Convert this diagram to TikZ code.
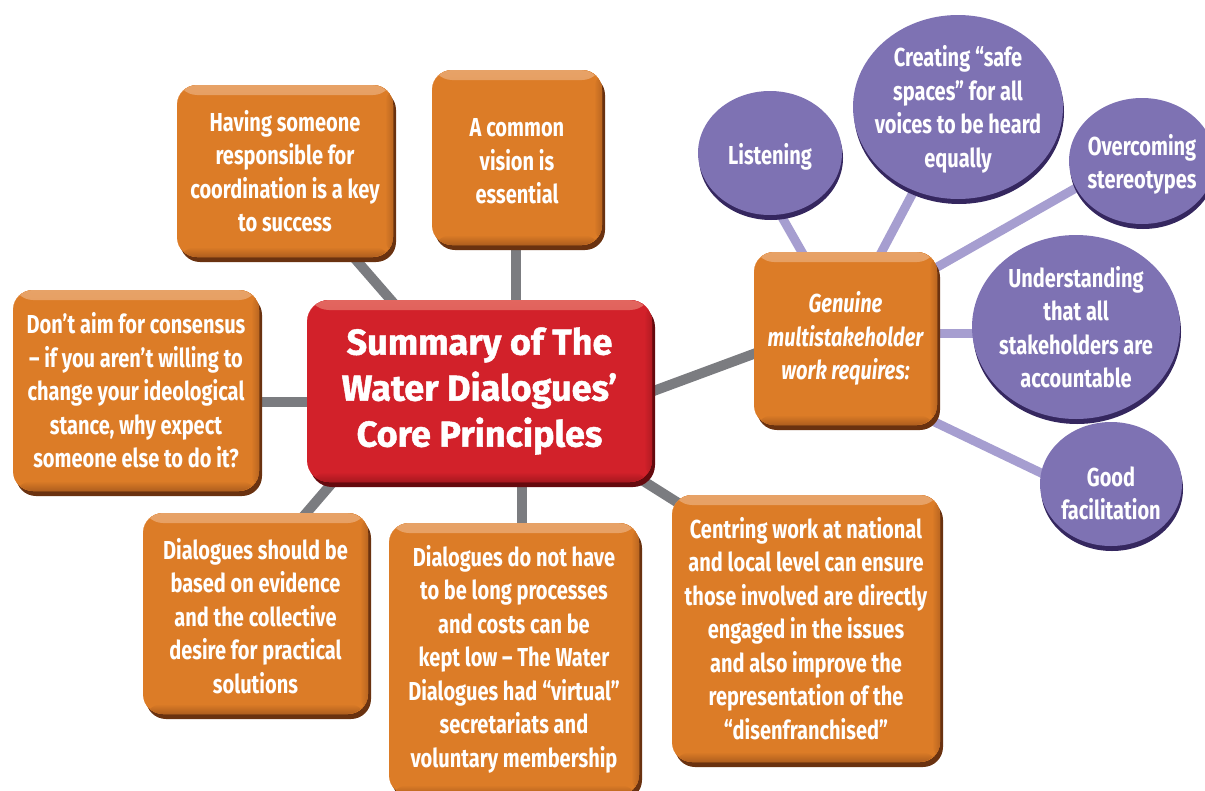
\documentclass[tikz,border=0pt]{standalone}
\usepackage{fontspec}
\setmainfont{Fira Sans}
\newfontfamily\condfont[FakeStretch=0.77]{Fira Sans}
\newfontfamily\titlefont[BoldFeatures={FakeBold=1.3}]{Fira Sans}
\usetikzlibrary{shapes.geometric,shadows,backgrounds}

\definecolor{boxor}{HTML}{DC7C27}
\definecolor{ordark}{HTML}{6A3210}
\definecolor{orlight}{HTML}{E7A267}
\definecolor{boxred}{HTML}{D2212A}
\definecolor{reddark}{HTML}{650A0E}
\definecolor{redlight}{HTML}{E2665F}
\definecolor{purp}{HTML}{7E72B3}
\definecolor{purpdark}{HTML}{35275F}
\definecolor{purpline}{HTML}{A69ED0}
\definecolor{linkgray}{HTML}{7B7C80}

% pushes a multi-line label down by the given amount
\newcommand\lowerby[1]{\rule{0pt}{\dimexpr 20pt+#1*2\relax}}

\tikzset{
  bodytext/.style={text=white, align=center, font=\condfont\bfseries\fontsize{26}{33.5}\selectfont},
  obox/.style={rounded corners=20pt, fill=boxor, inner sep=0pt, bodytext,
    drop shadow={shadow xshift=3pt, shadow yshift=-5pt, fill=ordark, opacity=1},
    path picture={
      \fill[top color=orlight, bottom color=boxor] (path picture bounding box.north west) rectangle ([yshift=-10pt]path picture bounding box.north east);
      \fill[top color=boxor, bottom color=ordark!40!boxor] ([yshift=10pt]path picture bounding box.south west) rectangle (path picture bounding box.south east);
      \fill[left color=boxor, right color=ordark!30!boxor] ([xshift=-8pt]path picture bounding box.north east) rectangle (path picture bounding box.south east);
    }},
  rbox/.style={rounded corners=22pt, fill=boxred, inner sep=0pt, text=white, align=center,
    font=\titlefont\bfseries\fontsize{36}{46}\selectfont,
    drop shadow={shadow xshift=3pt, shadow yshift=-5pt, fill=reddark, opacity=1},
    path picture={
      \fill[top color=redlight, bottom color=boxred] (path picture bounding box.north west) rectangle ([yshift=-10pt]path picture bounding box.north east);
      \fill[top color=boxred, bottom color=reddark!40!boxred] ([yshift=10pt]path picture bounding box.south west) rectangle (path picture bounding box.south east);
      \fill[left color=boxred, right color=reddark!30!boxred] ([xshift=-8pt]path picture bounding box.north east) rectangle (path picture bounding box.south east);
    }},
  bubble/.style={ellipse, fill=purp, inner sep=-30pt, bodytext,
    drop shadow={shadow xshift=1pt, shadow yshift=-5pt, fill=purpdark, opacity=1}},
  graylink/.style={draw=linkgray, line width=10pt},
  purplink/.style={draw=purpline, line width=9pt}
}

\begin{document}
\begin{tikzpicture}[x=1pt,y=-1pt]
\useasboundingbox (0,0) rectangle (1205,790);

% central title
\node[rbox, minimum width=345pt, minimum height=182pt] (ce) at (479.5,391)
  {Summary of The\\Water Dialogues’\\Core Principles};

% principle boxes
\node[obox, minimum width=216pt, minimum height=172pt] (hv) at (285,171)
  {Having someone\\responsible for\\coordination is a key\\to success};
\node[obox, minimum width=170pt, minimum height=175pt] (cv) at (517,157.5)
  {\lowerby{3pt}A common\\vision is\\essential};
\node[obox, minimum width=246pt, minimum height=201pt] (da) at (136,390.5)
  {Don’t aim for consensus\\– if you aren’t willing to\\change your ideological\\stance, why expect\\someone else to do it?};
\node[obox, minimum width=225pt, minimum height=201pt] (ds) at (255.5,613.5)
  {\lowerby{3pt}Dialogues should be\\based on evidence\\and the collective\\desire for practical\\solutions};
\node[obox, minimum width=250pt, minimum height=272pt] (dn) at (514,659)
  {Dialogues do not have\\to be long processes\\and costs can be\\kept low – The Water\\Dialogues had “virtual”\\secretariats and\\voluntary membership};
\node[obox, minimum width=268pt, minimum height=267pt] (cw) at (806,628.5)
  {Centring work at national\\and local level can ensure\\those involved are directly\\engaged in the issues\\and also improve the\\representation of the\\“disenfranchised”};
\node[obox, minimum width=183pt, minimum height=173pt] (gm) at (845.5,338.5)
  {\itshape Genuine\\\itshape multistakeholder\\\itshape work requires:};

% requirement bubbles
\node[bubble, minimum width=144pt, minimum height=124pt] (e1) at (770,153) {\lowerby{4pt}Listening};
\node[bubble, minimum width=210pt, minimum height=184pt] (e2) at (958,107)
  {\lowerby{3pt}Creating “safe\\spaces” for all\\voices to be heard\\equally};
\node[bubble, minimum width=146pt, minimum height=126pt] (e3) at (1142,161)
  {\lowerby{4pt}Overcoming\\stereotypes};
\node[bubble, minimum width=208pt, minimum height=184pt] (e4) at (1076,327)
  {Understanding\\that all\\stakeholders are\\accountable};
\node[bubble, minimum width=142pt, minimum height=124pt] (e5) at (1111,484)
  {\lowerby{9pt}Good\\facilitation};

% connectors behind the shapes
\begin{scope}[on background layer]
  \draw[graylink] ([shift={(45,59)}]hv.center) -- ([shift={(-69.5,-69)}]ce.center);
  \draw[graylink] ([shift={(-1,0)}]cv.center) -- ([shift={(36.5,0)}]ce.center);
  \draw[graylink] ([shift={(0,11.5)}]da.center) -- ([shift={(0,11)}]ce.center);
  \draw[graylink] ([shift={(34.5,-81.5)}]ds.center) -- ([shift={(-134.5,77)}]ce.center);
  \draw[graylink] ([shift={(8,0)}]dn.center) -- ([shift={(42.5,0)}]ce.center);
  \draw[graylink] ([shift={(-96,-105.5)}]cw.center) -- ([shift={(130.5,69)}]ce.center);
  \draw[graylink] ([shift={(-70.5,7.5)}]gm.center) -- ([shift={(160.5,5)}]ce.center);

  \draw[purplink] ([shift={(-30.5,-63.5)}]gm.center) -- ([shift={(5,52)}]e1.center);
  \draw[purplink] ([shift={(26.5,-68.5)}]gm.center) -- ([shift={(-33,63)}]e2.center);
  \draw[purplink] ([shift={(79.5,-64.5)}]gm.center) -- ([shift={(-52,19)}]e3.center);
  \draw[purplink] ([shift={(74.5,-5.5)}]gm.center) -- ([shift={(-76,6)}]e4.center);
  \draw[purplink] ([shift={(74.5,76.5)}]gm.center) -- ([shift={(-51,-2)}]e5.center);
\end{scope}
\end{tikzpicture}
\end{document}
